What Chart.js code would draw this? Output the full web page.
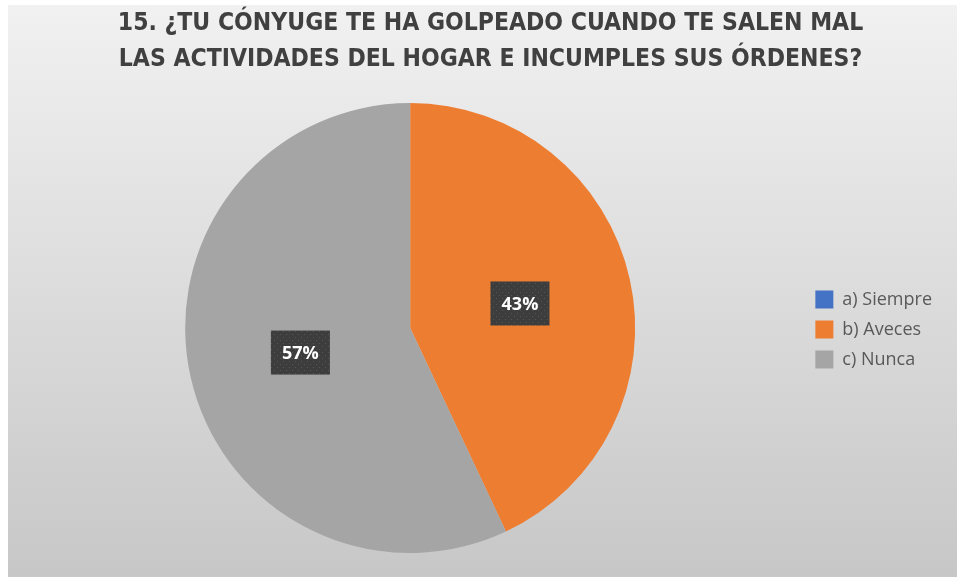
<!DOCTYPE html>
<html>
<head>
<meta charset="utf-8">
<script src="https://cdn.jsdelivr.net/npm/chart.js@4"></script>
<style>
    html, body { margin: 0; padding: 0; background: #fff; }
    #wrap { width: 957px; height: 577px; position: relative; }
</style>
</head>
<body>
<div id="wrap"><canvas id="pieChart"></canvas></div>
<script>
// datos de la pregunta 15
const categorias = ['a) Siempre', 'b) Aveces', 'c) Nunca'];
const valores = [0, 43, 57];
const colores = ['#4472C4', '#ED7D31', '#A5A5A5'];
const titulo = ['15. ¿TU CÓNYUGE TE HA GOLPEADO CUANDO TE SALEN MAL', 'LAS ACTIVIDADES DEL HOGAR E INCUMPLES SUS ÓRDENES?'];

// fondo gris degradado como en Excel
const fondoPlugin = {
    id: 'fondo',
    beforeDraw(chart) {
        const ctx = chart.ctx;
        ctx.save();
        ctx.fillStyle = '#ffffff';
        ctx.fillRect(0, 0, chart.width, chart.height);
        const g = ctx.createLinearGradient(0, 5, 0, chart.height);
        g.addColorStop(0, '#f1f1f1');
        g.addColorStop(1, '#c7c7c7');
        ctx.fillStyle = g;
        ctx.fillRect(8, 5, chart.width - 8, chart.height - 5);
        ctx.restore();
    }
};

// patron punteado de las etiquetas
function patronOscuro(ctx) {
    const c = document.createElement('canvas');
    c.width = 6; c.height = 6;
    const p = c.getContext('2d');
    p.fillStyle = '#3d3d3d';
    p.fillRect(0, 0, 6, 6);
    p.fillStyle = '#555555';
    p.fillRect(1, 1, 1, 1);
    p.fillRect(4, 4, 1, 1);
    return ctx.createPattern(c, 'repeat');
}

// etiquetas de porcentaje dentro de cada sector
const etiquetasPlugin = {
    id: 'etiquetas',
    afterDatasetsDraw(chart) {
        const ctx = chart.ctx;
        const meta = chart.getDatasetMeta(0);
        const data = chart.data.datasets[0].data;
        const total = data.reduce((a, b) => a + b, 0);
        ctx.save();
        ctx.font = 'bold 18px "Open Sans", sans-serif';
        ctx.textAlign = 'center';
        ctx.textBaseline = 'middle';
        meta.data.forEach((arc, i) => {
            if (!data[i]) return;
            const pt = arc.getCenterPoint();
            const txt = Math.round(data[i] / total * 100) + '%';
            const w = 59, h = 44;
            ctx.fillStyle = patronOscuro(ctx);
            ctx.fillRect(pt.x - w / 2, pt.y - h / 2, w, h);
            ctx.fillStyle = '#ffffff';
            ctx.fillText(txt, pt.x, pt.y + 1);
        });
        ctx.restore();
    }
};

new Chart(document.getElementById('pieChart'), {
    type: 'pie',
    data: {
        labels: categorias,
        datasets: [{
            data: valores,
            backgroundColor: colores,
            borderWidth: 0
        }]
    },
    options: {
        responsive: true,
        maintainAspectRatio: false,
        animation: false,
        layout: {
            padding: { left: 17, right: 15, top: 0, bottom: 24 }
        },
        plugins: {
            title: {
                display: true,
                // espacios al inicio para correr el titulo un poco a la derecha
                text: titulo.map(t => '\u2002\u2002' + t),
                color: '#404040',
                font: { family: '"Liberation Sans Narrow", "DejaVu Sans Condensed", sans-serif', size: 24.5, weight: 'bold', lineHeight: 1.47 },
                padding: { top: 6, bottom: 25 }
            },
            legend: {
                position: 'right',
                title: {
                    // solo sirve para bajar las entradas al centro del pastel
                    display: true,
                    text: ' ',
                    color: 'rgba(0,0,0,0)',
                    font: { size: 1, lineHeight: 1 },
                    padding: { top: 105, bottom: 0 }
                },
                labels: {
                    color: '#595959',
                    font: { family: '"Open Sans", sans-serif', size: 18 },
                    boxWidth: 18,
                    boxHeight: 18,
                    padding: 12
                }
            },
            tooltip: { enabled: false }
        }
    },
    plugins: [fondoPlugin, etiquetasPlugin]
});
</script>
</body>
</html>
